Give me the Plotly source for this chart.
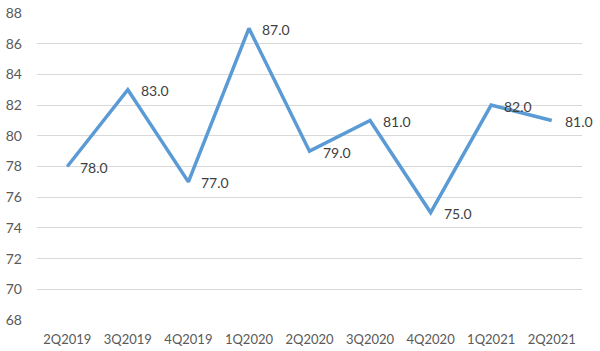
import plotly.graph_objects as go

categories = ["2Q2019", "3Q2019", "4Q2019", "1Q2020", "2Q2020", "3Q2020", "4Q2020", "1Q2021", "2Q2021"]
values = [78.0, 83.0, 77.0, 87.0, 79.0, 81.0, 75.0, 82.0, 81.0]
y_ticks = [68, 70, 72, 74, 76, 78, 80, 82, 84, 86, 88]

FONT = "Lato, Open Sans, sans-serif"

fig = go.Figure()
fig.add_trace(go.Scatter(
    x=categories, y=values, mode="lines",
    line=dict(color="#5B9BD5", width=3.5),
    cliponaxis=False,
))
for c, v in zip(categories, values):
    fig.add_annotation(
        x=c, y=v, text=f"{v:.1f}", showarrow=False,
        xanchor="left", yanchor="middle", xshift=11, yshift=-1,
        font=dict(family=FONT, size=14, color="#404040"),
    )
fig.update_layout(
    width=600, height=351,
    margin=dict(l=37, r=18, t=13, b=31, autoexpand=False),
    paper_bgcolor="white", plot_bgcolor="white",
    showlegend=False,
    font=dict(family=FONT, size=13, color="#595959"),
)
fig.update_xaxes(
    type="category", range=[-0.5, 8.5], showgrid=False, zeroline=False,
    showline=False, ticks="", ticklabelstandoff=10, automargin=False,
)
fig.update_yaxes(
    range=[68, 88], tickvals=y_ticks, showgrid=True, gridcolor="#D9D9D9",
    gridwidth=1, zeroline=False, showline=False, ticks="", ticklabelstandoff=14,
    tickfont=dict(size=14), automargin=False,
)
fig.write_html("out.html")
